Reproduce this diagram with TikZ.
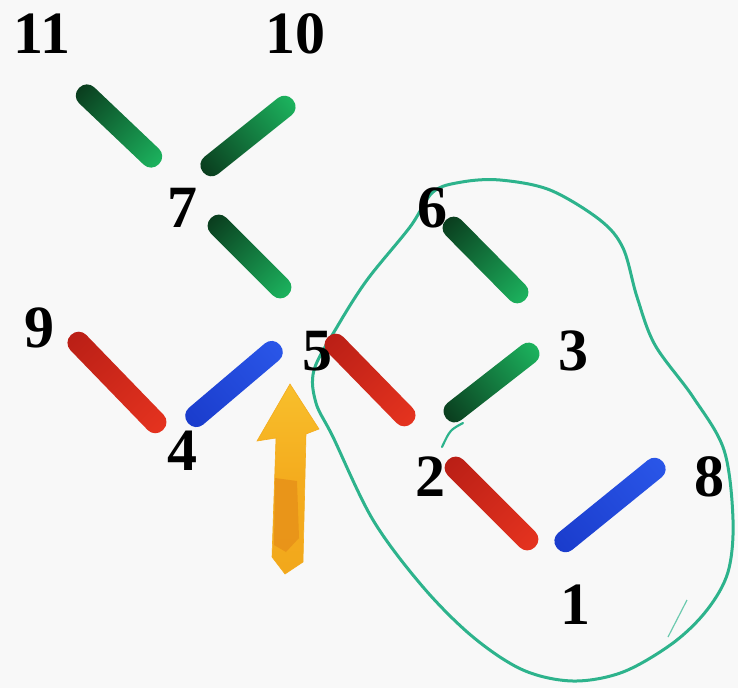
\documentclass[tikz,border=0pt]{standalone}
\usepackage{fontspec}
\setmainfont{Liberation Serif}
\usetikzlibrary{calc}

\definecolor{paper}{HTML}{F8F8F8}
\definecolor{gdark}{HTML}{0A3D1E}
\definecolor{glight}{HTML}{1CB35E}
\definecolor{rdark}{HTML}{BA1F16}
\definecolor{rlight}{HTML}{E5331F}
\definecolor{bdark}{HTML}{1A3CCC}
\definecolor{blight}{HTML}{2A56E8}
\definecolor{loop}{HTML}{2DB38C}
\definecolor{ortop}{HTML}{F8BF2C}
\definecolor{ormid}{HTML}{F4AC1E}
\definecolor{orbot}{HTML}{F2A81C}
\definecolor{orpatch}{HTML}{E68E18}

\tikzset{
  num/.style={font=\bfseries\fontsize{60}{60}\selectfont, inner sep=0pt, text=black},
  loopline/.style={draw=loop, line width=3pt, line cap=round, line join=round},
}

% a marker stroke from (#1,#2) to (#3,#4), shaded from #5 to #6
\newcommand\mkstroke[6]{%
  \pgfmathsetmacro\mkang{atan2(-(#4-#2),#3-#1)}%
  \pgfmathsetmacro\mklen{veclen(#3-#1,#4-#2)}%
  \begin{scope}[transform canvas={shift={(#1,#2)}, rotate=\mkang}]
    \shade[left color=#5, right color=#6, rounded corners=10.5pt]
      (0pt,-11pt) rectangle (\mklen pt,11pt);
  \end{scope}}

\begin{document}
\begin{tikzpicture}[x=1pt, y=-1pt]
  \path[fill=paper, use as bounding box] (0,0) rectangle (738,688);

  % green loop
  \draw[loopline] plot[smooth cycle, tension=0.55] coordinates {
    (337,327) (367,280) (410,227) (433,192) (462,182) (500,180) (550,190)
    (600,220) (623,248) (637,297) (655,345) (693,397) (724,450) (733,520)
    (728,572) (707,610) (673,643) (623,672) (573,681) (523,670) (473,637)
    (423,587) (373,520) (333,437) (316,403) (314,370)};
  \draw[loopline, line width=2.2pt] (463,423) .. controls (450,430) .. (442,447);
  \draw[draw=loop!70, line width=1.2pt] (687,600) -- (668,637);

  % marker strokes
  \mkstroke{79}{88}{159}{164}{gdark}{glight}
  \mkstroke{203}{172}{293}{100}{gdark}{glight}
  \mkstroke{211}{218}{288}{295}{gdark}{glight}
  \mkstroke{446}{220}{525}{300}{gdark}{glight}
  \mkstroke{446}{418}{537}{347}{gdark}{glight}
  \mkstroke{71}{335}{163}{430}{rdark}{rlight}
  \mkstroke{328}{337}{412}{423}{rdark}{rlight}
  \mkstroke{448}{460}{535}{547}{rdark}{rlight}
  \mkstroke{188}{423}{280}{345}{bdark}{blight}
  \mkstroke{557}{548}{663}{462}{bdark}{blight}

  % orange arrow
  \shade[top color=ortop, bottom color=orbot, middle color=ormid, draw=ormid, line width=0.6pt]
    (290,384) -- (319,429) -- (306,434) -- (303,562) -- (285,574) -- (272,557)
    -- (276,438) -- (257,441) -- cycle;
  \fill[orpatch, opacity=0.75] (275,478) -- (297,481) -- (299,538) -- (286,552) -- (274,545) -- cycle;

  % labels
  \node[num] (n11) at (42,34) {11};
  \node[num] (n10) at (295,34) {10};
  \node[num] (n7) at (182,208) {7};
  \node[num] (n6) at (432,208) {6};
  \node[num] (n9) at (39,328) {9};
  \node[num] (n5) at (317,351) {5};
  \node[num] (n3) at (573,351) {3};
  \node[num] (n4) at (182,451) {4};
  \node[num] (n2) at (430,477) {2};
  \node[num] (n8) at (709,477) {8};
  \node[num] (n1) at (575,605) {1};
\end{tikzpicture}
\end{document}
